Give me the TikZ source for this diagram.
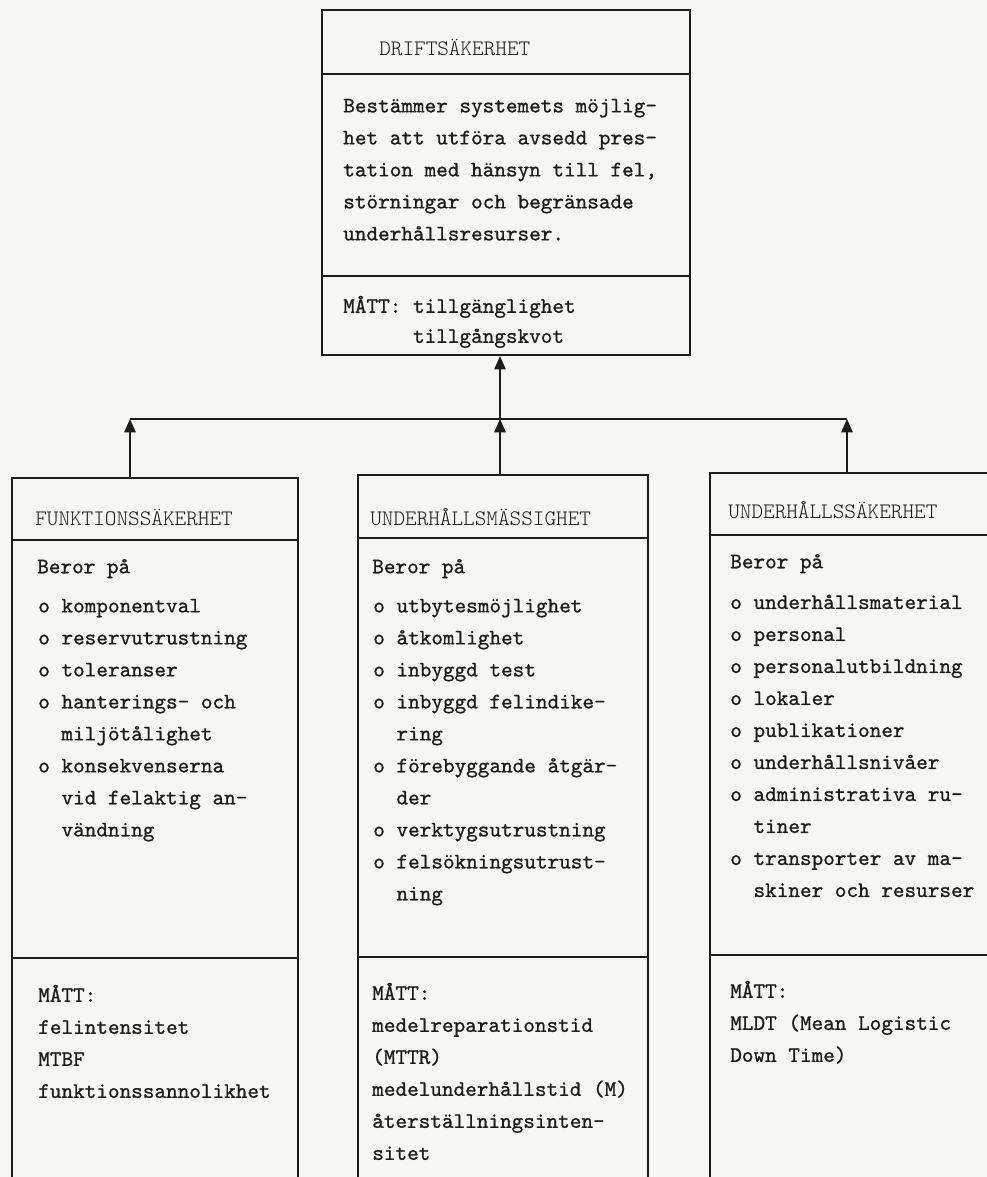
\documentclass[tikz,border=0pt]{standalone}
\usepackage{fontspec}
\usetikzlibrary{arrows.meta,fit}
% typewriter faces: a slightly heavier one for running text, a light one for headings
\newfontfamily\typew{lmmono10-regular}[Extension=.otf,FakeBold=0.9]
\newfontfamily\typewlt{lmmonolt10-regular}[Extension=.otf]
\definecolor{paper}{RGB}{246,246,244}
\definecolor{ink}{RGB}{28,28,28}
\tikzset{
  pane/.style={draw=ink, line width=1.6pt, inner sep=0pt},
  divider/.style={draw=ink, line width=1.5pt},
  wire/.style={draw=ink, line width=1.3pt},
  up/.style={-{Triangle[width=8.5pt,length=10pt]}},
  txt/.style={anchor=north west, inner sep=0pt, align=left, text=ink,
    yshift=16.8pt, execute at begin node=\strut,
    font=\typew\fontsize{16.6}{24}\selectfont},
  tight/.style={txt, font=\typew\fontsize{16.6}{22.5}\selectfont},
  head/.style={txt, font=\typewlt\fontsize{16.6}{24}\selectfont},
}
\begin{document}
\begin{tikzpicture}[x=0.75pt,y=-0.75pt]
\path[use as bounding box] (0,0) rectangle (987,1177);
\fill[paper] (0,0) rectangle (987,1177);
\clip (0,0) rectangle (987,1177);

% ---- boxes ----
\node[pane, fit={(322,10) (690,355)}] (T) {};
\node[pane, fit={(12,478) (298,1195)}] (L) {};
\node[pane, fit={(358,475) (648,1195)}] (M) {};
\node[pane, fit={(710,473) (1010,1195)}] (R) {};

% compartment dividers
\draw[divider] (322,74) -- (690,74);
\draw[divider] (322,276) -- (690,276);
\draw[divider] (12,540) -- (298,540);
\draw[divider] (12,958) -- (298,958);
\draw[divider] (358,538) -- (648,538);
\draw[divider] (358,957) -- (648,957);
\draw[divider] (710,535) -- (1010,535);
\draw[divider] (710,955) -- (1010,955);

% ---- connectors ----
\coordinate (jL) at (130,419);
\coordinate (jM) at (500,419);
\coordinate (jR) at (847,419);
\draw[wire] (jL) -- (jR);
\draw[wire,up] (L.north -| jL) -- (jL);
\draw[wire,up] (M.north -| jM) -- (jM);
\draw[wire,up] (R.north -| jR) -- (jR);
\draw[wire,up] (jM) -- (T.south -| jM);

% ---- top box text ----
\node[head] (tTitle) at (379,55) {DRIFTSÄKERHET};
\node[txt] (tBody) at (343,121) {Bestämmer systemets möjlig-\\
het att utföra avsedd pres-\\
tation med hänsyn till fel,\\
störningar och begränsade\\
underhållsresurser.};
\node[tight] (tMeas) at (343,318) {MÅTT: tillgänglighet\\
~~~~~~tillgångskvot};

% ---- left box text ----
\node[head] (lTitle) at (35,525) {FUNKTIONSSÄKERHET};
\node[txt] (lDep) at (37,573) {Beror på};
\node[txt] (lList) at (38,621) {o komponentval\\
o reservutrustning\\
o toleranser\\
o hanterings- och\\
~~miljötålighet\\
o konsekvenserna\\
~~vid felaktig an-\\
~~vändning};
\node[txt] (lMeas) at (38,1007) {MÅTT:\\
felintensitet\\
MTBF\\
funktionssannolikhet};

% ---- middle box text ----
\node[head] (mTitle) at (370,525) {UNDERHÅLLSMÄSSIGHET};
\node[txt] (mDep) at (372,573) {Beror på};
\node[txt] (mList) at (373,621) {o utbytesmöjlighet\\
o åtkomlighet\\
o inbyggd test\\
o inbyggd felindike-\\
~~ring\\
o förebyggande åtgär-\\
~~der\\
o verktygsutrustning\\
o felsökningsutrust-\\
~~ning};
\node[txt] (mMeas) at (372,1005) {MÅTT:\\
medelreparationstid\\
(MTTR)\\
medelunderhållstid (M)\\
återställningsinten-\\
sitet};

% ---- right box text ----
\node[head] (rTitle) at (728,518) {UNDERHÅLLSSÄKERHET};
\node[txt] (rDep) at (730,568) {Beror på};
\node[txt] (rList) at (730,617) {o underhållsmaterial\\
o personal\\
o personalutbildning\\
o lokaler\\
o publikationer\\
o underhållsnivåer\\
o administrativa ru-\\
~~tiner\\
o transporter av ma-\\
~~skiner och resurser};
\node[txt] (rMeas) at (730,1003) {MÅTT:\\
MLDT (Mean Logistic\\
Down Time)};
\end{tikzpicture}
\end{document}
